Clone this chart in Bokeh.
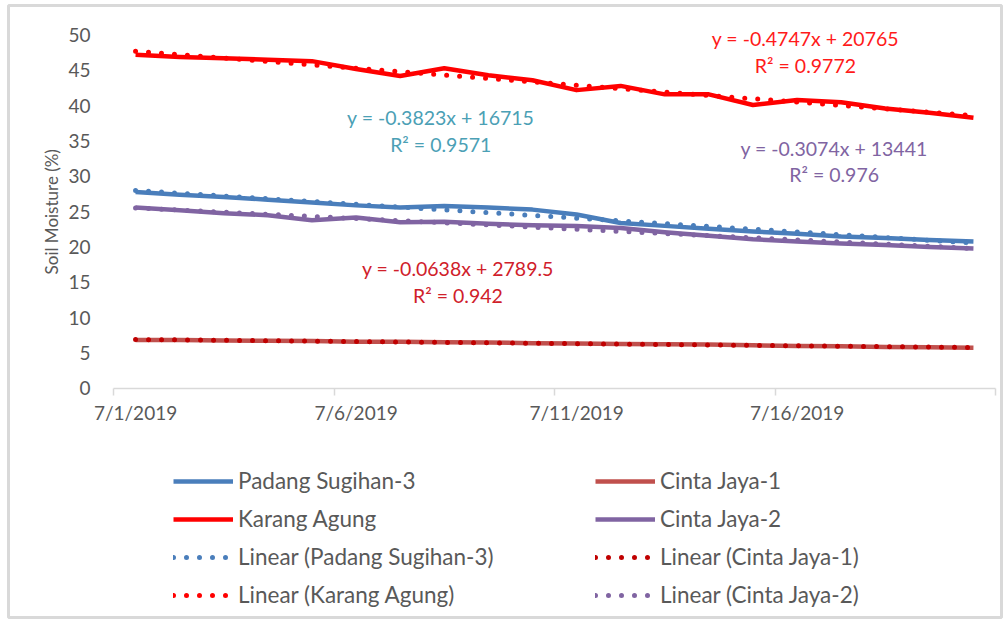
import numpy as np
import pandas as pd
from bokeh.plotting import figure
from bokeh.models import Range1d, FixedTicker, Legend, LegendItem, Label
from bokeh.embed import file_html
from bokeh.resources import INLINE

# ---------------- data ----------------
dates = pd.date_range("2019-07-01", "2019-07-20", freq="D")
padang_sugihan_3 = [27.8, 27.4, 27.1, 26.7, 26.3, 25.9, 25.6, 25.8, 25.6, 25.3,
                    24.6, 23.4, 23.0, 22.6, 22.2, 21.9, 21.5, 21.3, 21.0, 20.8]
cinta_jaya_1 = [6.85, 6.85, 6.78, 6.75, 6.72, 6.62, 6.60, 6.55, 6.52, 6.40,
                6.35, 6.30, 6.25, 6.22, 6.10, 6.00, 5.98, 5.88, 5.85, 5.75]
karang_agung = [47.2, 46.9, 46.7, 46.5, 46.3, 45.2, 44.2, 45.3, 44.3, 43.6,
                42.2, 42.8, 41.6, 41.6, 40.1, 40.8, 40.5, 39.6, 39.0, 38.3]
cinta_jaya_2 = [25.6, 25.2, 24.8, 24.5, 23.8, 24.2, 23.5, 23.6, 23.3, 23.1,
                23.0, 22.7, 22.1, 21.6, 21.1, 20.8, 20.5, 20.3, 20.0, 19.8]
series_names = ["Padang Sugihan-3", "Cinta Jaya-1", "Karang Agung", "Cinta Jaya-2"]
trend_labels = ["y = -0.3823x + 16715", "R\u00b2 = 0.9571",
                "y = -0.0638x + 2789.5", "R\u00b2 = 0.942",
                "y = -0.4747x + 20765", "R\u00b2 = 0.9772",
                "y = -0.3074x + 13441", "R\u00b2 = 0.976"]
x_tick_dates = pd.to_datetime(["2019-07-01", "2019-07-06", "2019-07-11", "2019-07-16"])
y_ticks = [0, 5, 10, 15, 20, 25, 30, 35, 40, 45, 50]
y_title = "Soil Moisture (%)"

# ---------------- styling ----------------
FONT = "Lato"
GREY = "#595959"
line_colors = ["#4A7EBB", "#C0504D", "#FF0000", "#8064A2"]
trend_colors = ["#4A7EBB", "#C00000", "#FF0000", "#8064A2"]
label_colors = ["#4BA0B5", "#D0202A", "#FF1A1A", "#8064A2"]

x = np.array([d.day for d in dates], dtype=float)

# frame spans the whole chart box; axes are fixed inside it
p = figure(width=1004, height=620, output_backend="svg", toolbar_location=None,
           x_range=Range1d(-1.881, 20.636), y_range=Range1d(-32.39, 54.17),
           min_border_left=8, min_border_right=3, min_border_top=5,
           min_border_bottom=3)
p.outline_line_color = "#D9D9D9"
p.outline_line_width = 3
p.grid.visible = False
p.background_fill_color = "white"
p.border_fill_color = "white"

# x axis
xt = [float(d.day) for d in x_tick_dates]
p.xaxis.fixed_location = 0
p.xaxis.bounds = (0.5, 20.5)
p.xaxis.ticker = FixedTicker(ticks=xt, minor_ticks=[v - 0.5 for v in xt] + [20.5])
p.xaxis.major_label_overrides = {v: f"{d.month}/{d.day}/{d.year}" for v, d in zip(xt, x_tick_dates)}
p.xaxis.axis_line_color = "#D9D9D9"
p.xaxis.axis_line_width = 1.5
p.xaxis.major_tick_line_color = None
p.xaxis.major_tick_out = 0
p.xaxis.major_tick_in = 0
p.xaxis.minor_tick_line_color = "#D9D9D9"
p.xaxis.minor_tick_line_width = 1.5
p.xaxis.minor_tick_out = 7
p.xaxis.minor_tick_in = 0
p.xaxis.major_label_standoff = 6
p.xaxis.major_label_text_font = FONT
p.xaxis.major_label_text_font_size = "19px"
p.xaxis.major_label_text_color = GREY

# y axis
p.yaxis.fixed_location = 0.5
p.yaxis.bounds = (0, 50)
p.yaxis.ticker = FixedTicker(ticks=y_ticks)
p.yaxis.axis_line_color = None
p.yaxis.major_tick_line_color = None
p.yaxis.minor_tick_line_color = None
p.yaxis.major_tick_out = 0
p.yaxis.major_tick_in = 0
p.yaxis.major_label_standoff = 23
p.yaxis.major_label_text_font = FONT
p.yaxis.major_label_text_font_size = "19px"
p.yaxis.major_label_text_color = GREY

p.add_layout(Label(x=-0.91, y=25, text=y_title, angle=np.pi / 2, text_align="center",
                   text_baseline="middle", text_font=FONT, text_font_size="17px",
                   text_color=GREY))

all_series = [padang_sugihan_3, cinta_jaya_1, karang_agung, cinta_jaya_2]
line_r = []
trend_r = []
for vals, col in zip(all_series, line_colors):
    line_r.append(p.line(x, vals, line_color=col, line_width=4.5, line_join="round"))
for vals, col in zip(all_series, trend_colors):
    k, b = np.polyfit(x, np.array(vals), 1)
    trend_r.append(p.line(x, k * x + b, line_color=col, line_width=5,
                          line_dash="0 13", line_cap="round"))

# trendline equations
label_pos = [(7.92, 38.3, 34.5), (8.31, 17.0, 13.15), (16.19, 49.5, 45.7), (16.84, 33.95, 30.27)]
for i, ((lx, ly1, ly2), col) in enumerate(zip(label_pos, label_colors)):
    for txt, ly in ((trend_labels[2 * i], ly1), (trend_labels[2 * i + 1], ly2)):
        p.add_layout(Label(x=lx, y=ly, text=txt, text_align="center",
                           text_baseline="middle", text_font=FONT,
                           text_font_size="19.5px", text_color=col))

# legends (two columns)
def make_legend(idx, vx):
    items = []
    for i in idx:
        items.append(LegendItem(label=series_names[i], renderers=[line_r[i]]))
    for i in idx:
        items.append(LegendItem(label=f"Linear ({series_names[i]})", renderers=[trend_r[i]]))
    return Legend(items=items, location=(vx, 9), orientation="vertical",
                  glyph_width=60, glyph_height=22, label_height=22, spacing=11,
                  label_standoff=5, padding=0, margin=0,
                  border_line_color=None, background_fill_alpha=0,
                  label_text_font=FONT, label_text_font_size="22.5px",
                  label_text_color=GREY)

p.add_layout(make_legend([0, 2], 165))
p.add_layout(make_legend([1, 3], 587))

open("out.html", "w").write(file_html(p, INLINE))
